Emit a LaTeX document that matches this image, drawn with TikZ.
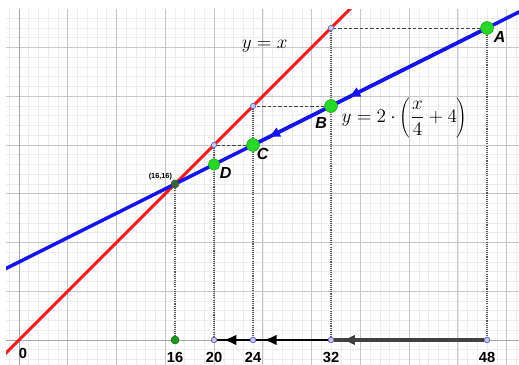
\documentclass[tikz,border=0pt]{standalone}
\usepackage{fontspec}
\setsansfont{Liberation Sans}
\usetikzlibrary{arrows.meta,decorations.markings}
\definecolor{ggblue}{RGB}{20,20,235}
\definecolor{ggred}{RGB}{235,30,30}
\definecolor{gggreen}{RGB}{40,215,40}
\definecolor{ggdot}{RGB}{110,110,200}
\definecolor{ggdark}{RGB}{60,100,60}
\begin{document}
\begin{tikzpicture}[x=0.257cm,y=0.257cm]
    % Styles
    \tikzset{
      big point/.style={circle,draw=gggreen!80!black,fill=gggreen,inner sep=0pt,minimum size=9.5pt},
      small point/.style={circle,draw=ggdot,fill=ggdot!35,inner sep=0pt,minimum size=4pt,line width=0.6pt},
      pt label/.style={font=\sffamily\bfseries\itshape\large},
      tick label/.style={font=\sffamily\bfseries\fontsize{11}{13}\selectfont},
      guide h/.style={draw=black!75,line width=0.7pt,dash pattern=on 2.5pt off 1.5pt},
      guide v/.style={draw=black!65,line width=1.3pt,dash pattern=on 0.8pt off 0.8pt},
      arrow at/.style={postaction={decorate},decoration={markings,mark=at position #1 with {\arrow{Latex[length=10pt,width=8pt]}}}}
    }
    \useasboundingbox (-1.95,-2.56) rectangle (51.28,34.87);

    % --- Grid and the two lines ---
    \begin{scope}
      \clip (-1.33,-2.56) rectangle (51.28,33.85);
      \draw[black!7,line width=0.4pt,step=1] (-2,-3) grid (52,35);
      \draw[black!22,line width=0.6pt,step=5] (-2,-3) grid (52,35);
      \draw[black!35,line width=0.6pt] (-2,0) -- (52,0) (0,-3) -- (0,35);
      \draw[ggred,line width=2.3pt] (-3,-3) -- (36,36);
      \draw[ggblue,line width=2.6pt] (-3,6.5) -- (53,34.5);
    \end{scope}

    % --- Points on the lines ---
    \node[big point] (A) at (48,32) {};
    \node[big point] (B) at (32,24) {};
    \node[big point] (C) at (24,20) {};
    \node[big point,minimum size=8.5pt] (D) at (20,18) {};
    \node[circle,draw=ggdark!80!black,fill=ggdark,inner sep=0pt,minimum size=6pt] (F) at (16,16) {};
    \node[small point] (R32) at (32,32) {};
    \node[small point] (R24) at (24,24) {};
    \node[small point] (R20) at (20,20) {};

    % --- Points on the x-axis ---
    \node[circle,draw=gggreen!50!black,fill=gggreen!70!black,inner sep=0pt,minimum size=6pt] (X16) at (16,0) {};
    \node[small point] (X20) at (20,0) {};
    \node[small point] (X24) at (24,0) {};
    \node[small point] (X32) at (32,0) {};
    \node[small point] (X48) at (48,0) {};

    % Guides
    \draw[guide h] (A) -- (R32);
    \draw[guide h] (B) -- (R24);
    \draw[guide h] (C) -- (R20);
    \draw[guide v] (A) -- (X48);
    \draw[guide v] (R32) -- (X32);
    \draw[guide v] (R24) -- (X24);
    \draw[guide v] (R20) -- (X20);
    \draw[guide v] (F) -- (X16);

    % Steps along the blue line
    \path[draw=ggblue,line width=2.6pt,arrow at=0.93] (A) -- (B);
    \path[draw=ggblue,line width=2.6pt,arrow at=0.88] (B) -- (C);

    % Steps along the x-axis
    \draw[black!75,line width=2.4pt,arrow at=0.95] (X48) -- (X32);
    \draw[black,line width=2pt,arrow at=0.9] (X32) -- (X24);
    \draw[black,line width=2pt,arrow at=0.82] (X24) -- (X20);

    % redraw points on top
    \foreach \p in {A,B,C}
      \node[big point] at (\p) {};
    \node[big point,minimum size=8.5pt] at (D) {};
    \foreach \p in {X20,X24,X32,X48}
      \node[small point] at (\p) {};

    % --- Labels ---
    \node[pt label] at (49.3,31.1) {A};
    \node[pt label] at (31,22.3) {B};
    \node[pt label] at (25,19.1) {C};
    \node[pt label] at (21.2,17.1) {D};
    \node[font=\sffamily\bfseries\fontsize{5.5}{6}\selectfont] at (14.5,16.8) {(16,16)};
    \node[font=\Large] at (25.2,30.1) {$y=x$};
    \node[font=\fontsize{15.5}{18}\selectfont,anchor=west] at (32.6,22.8) {$y=2\cdot\left(\displaystyle\frac{x}{4}+4\right)$};

    \node[tick label] at (0.4,-1.4) {0};
    \node[tick label] at (16,-1.8) {16};
    \node[tick label] at (20,-1.8) {20};
    \node[tick label] at (24,-1.8) {24};
    \node[tick label] at (32,-1.8) {32};
    \node[tick label] at (48,-1.8) {48};
\end{tikzpicture}
\end{document}
